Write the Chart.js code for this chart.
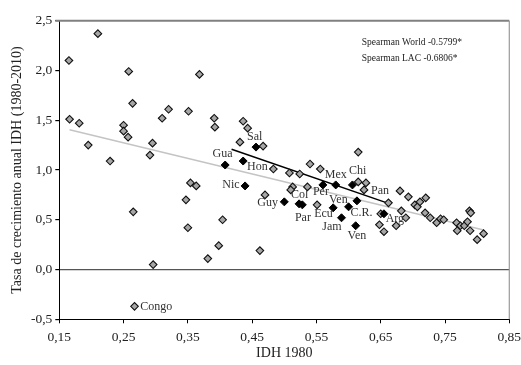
<!DOCTYPE html>
<html><head><meta charset="utf-8">
<script src="https://cdn.jsdelivr.net/npm/chart.js@4.4.0/dist/chart.umd.min.js"></script>
<style>html,body{margin:0;padding:0;background:#fff}#wrap{width:521px;height:365px;position:relative}</style>
</head><body><div id="wrap"><canvas id="c"></canvas></div>
<script>
// World (non-LAC) countries: IDH 1980 vs annual growth rate
const worldX = [0.210,0.165,0.258,0.368,0.264,0.320,0.351,0.310,0.166,0.181,0.250,0.250,0.257,0.195,0.295,0.291,0.229,
  0.391,0.392,0.436,0.443,0.431,0.467,0.615,0.483,0.508,0.524,0.540,0.556,0.615,0.627,0.624,0.470,0.513,0.510,0.536,0.551,
  0.404,0.354,0.363,0.347,0.265,0.350,0.296,0.381,0.398,0.462,0.267,
  0.662,0.650,0.648,0.655,0.674,0.682,0.689,0.680,0.693,0.703,0.707,0.711,0.720,0.719,0.727,0.737,0.743,0.748,
  0.768,0.774,0.769,0.780,0.785,0.788,0.790,0.789,0.800,0.810];
const worldY = [2.37,2.10,1.99,1.96,1.67,1.61,1.59,1.52,1.51,1.47,1.45,1.39,1.33,1.25,1.27,1.15,1.09,
  1.52,1.43,1.49,1.42,1.28,1.24,1.18,1.01,0.97,0.96,1.06,1.01,0.88,0.87,0.80,0.75,0.83,0.80,0.83,0.65,
  0.50,0.87,0.84,0.70,0.58,0.42,0.05,0.11,0.24,0.19,-0.37,
  0.67,0.56,0.45,0.38,0.44,0.59,0.52,0.79,0.73,0.65,0.63,0.68,0.72,0.57,0.52,0.47,0.51,0.50,
  0.47,0.44,0.39,0.44,0.48,0.59,0.57,0.39,0.30,0.36];
// Latin America & Caribbean countries
const lacNames = ['Gua','Hon','Sal','Nic','Guy','Col','Par','Ecu','Per','Mex','Chi','Ven','C.R.','Jam','Ven','Arg'];
const lacX = [0.408,0.436,0.456,0.439,0.500,0.523,0.528,0.576,0.560,0.580,0.606,0.613,0.600,0.589,0.611,0.655];
const lacY = [1.05,1.09,1.23,0.84,0.68,0.66,0.65,0.62,0.85,0.85,0.85,0.69,0.63,0.52,0.44,0.56];
// Trend lines (end points)
const worldTrendX = [0.166,0.810];
const worldTrendY = [1.405,0.397];
const lacTrendX = [0.418,0.662];
const lacTrendY = [1.208,0.665];
// Ticks
const xTickValues = [0.15,0.25,0.35,0.45,0.55,0.65,0.75,0.85];
const xTickLabels = ['0,15','0,25','0,35','0,45','0,55','0,65','0,75','0,85'];
const yTickValues = [-0.5,0,0.5,1.0,1.5,2.0,2.5];
const yTickLabels = ['-0,5','0,0','0,5','1,0','1,5','2,0','2,5'];
// Annotations
const spearmanLines = ['Spearman World -0.5799*','Spearman LAC -0.6806*'];
const labelTexts = ['Gua','Sal','Hon','Nic','Guy','Col','Per','Ven','Mex','Chi','Pan','Par','Ecu','C.R.','Jam','Ven','Arg','Congo'];
const labelX = [0.404,0.454,0.458,0.417,0.474,0.524,0.557,0.584,0.580,0.614,0.649,0.529,0.561,0.620,0.574,0.613,0.672,0.301];
const labelY = [1.16,1.33,1.03,0.85,0.665,0.75,0.78,0.705,0.95,0.99,0.79,0.52,0.555,0.57,0.43,0.335,0.51,-0.37];

const FONT = "'Liberation Serif','DejaVu Serif',serif";
const toPts = (xs, ys) => xs.map((x, i) => ({x: x, y: ys[i]}));

const framePlugin = {
  id: 'frame',
  beforeDatasetsDraw(chart) {
    const a = chart.chartArea, ctx = chart.ctx;
    ctx.save();
    ctx.strokeStyle = '#808080';
    ctx.lineWidth = 2;
    ctx.beginPath(); ctx.moveTo(a.left - 4, a.top); ctx.lineTo(a.right, a.top); ctx.stroke();
    ctx.lineWidth = 1.2;
    ctx.strokeStyle = '#9a9a9a';
    ctx.beginPath(); ctx.moveTo(a.right, a.top); ctx.lineTo(a.right, a.bottom); ctx.stroke();
    ctx.restore();
  }
};
const textPlugin = {
  id: 'texts',
  afterDatasetsDraw(chart) {
    const a = chart.chartArea, ctx = chart.ctx;
    const xs = chart.scales.x, ys = chart.scales.y;
    ctx.save();
    ctx.fillStyle = '#333';
    ctx.textAlign = 'center'; ctx.textBaseline = 'middle';
    ctx.font = '12px ' + FONT;
    labelTexts.forEach((t, i) => {
      ctx.fillText(t, xs.getPixelForValue(labelX[i]), ys.getPixelForValue(labelY[i]));
    });
    ctx.fillStyle = '#222';
    ctx.textAlign = 'left';
    ctx.font = '9.5px ' + FONT;
    spearmanLines.forEach((t, i) => {
      ctx.fillText(t, a.left + 302.4, a.top + 22 + i * 15.6);
    });
    ctx.restore();
  }
};

new Chart(document.getElementById('c'), {
  type: 'scatter',
  data: {
    datasets: [
      {label: 'LAC', data: toPts(lacX, lacY), order: 0, pointStyle: 'rectRot', pointRadius: 4,
       backgroundColor: '#000', borderColor: '#000', borderWidth: 1},
      {label: 'World', data: toPts(worldX, worldY), order: 1, pointStyle: 'rectRot', pointRadius: 3.8,
       backgroundColor: '#a6a6a6', borderColor: '#111', borderWidth: 1.1},
      {label: 'LAC trend', data: toPts(lacTrendX, lacTrendY), order: 2, showLine: true, pointRadius: 0,
       borderColor: '#000', borderWidth: 1.5},
      {label: 'World trend', data: toPts(worldTrendX, worldTrendY), order: 3, showLine: true, pointRadius: 0,
       borderColor: '#c4c4c4', borderWidth: 1.5}
    ]
  },
  options: {
    responsive: true, maintainAspectRatio: false, animation: false,
    layout: {padding: {top: 20.7, right: 11.7, left: 0, bottom: 0}},
    plugins: {legend: {display: false}, tooltip: {enabled: false}},
    scales: {
      x: {
        type: 'linear', min: 0.15, max: 0.85,
        afterBuildTicks: s => { s.ticks = xTickValues.map(v => ({value: v})); },
        afterFit: s => { s.height = 45.7; s.paddingLeft = 0; s.paddingRight = 0; },
        ticks: {callback: (v, i) => xTickLabels[i], font: {family: FONT, size: 13.5}, color: '#222',
                padding: 6, maxRotation: 0, autoSkip: false},
        grid: {drawOnChartArea: false, tickLength: 4, tickColor: '#000'},
        border: {color: '#000', width: 1},
        title: {display: true, text: 'IDH 1980', font: {family: FONT, size: 14}, color: '#222', padding: {top: 0, bottom: 3}}
      },
      y: {
        type: 'linear', min: -0.5, max: 2.5,
        afterBuildTicks: s => { s.ticks = yTickValues.map(v => ({value: v})); },
        afterFit: s => { s.width = 59.3; s.paddingTop = 0; s.paddingBottom = 0; },
        ticks: {callback: (v, i) => yTickLabels[i], font: {family: FONT, size: 13.5}, color: '#222', padding: 3},
        grid: {color: c => (c.tick && c.tick.value === 0) ? '#555' : 'rgba(0,0,0,0)', lineWidth: 1.2,
               tickLength: 4, tickColor: '#000'},
        border: {color: '#000', width: 1},
        title: {display: true, text: 'Tasa de crecimiento anual IDH (1980-2010)', font: {family: FONT, size: 14},
                color: '#222', padding: {top: 9, bottom: 2}}
      }
    }
  },
  plugins: [framePlugin, textPlugin]
});
</script></body></html>
